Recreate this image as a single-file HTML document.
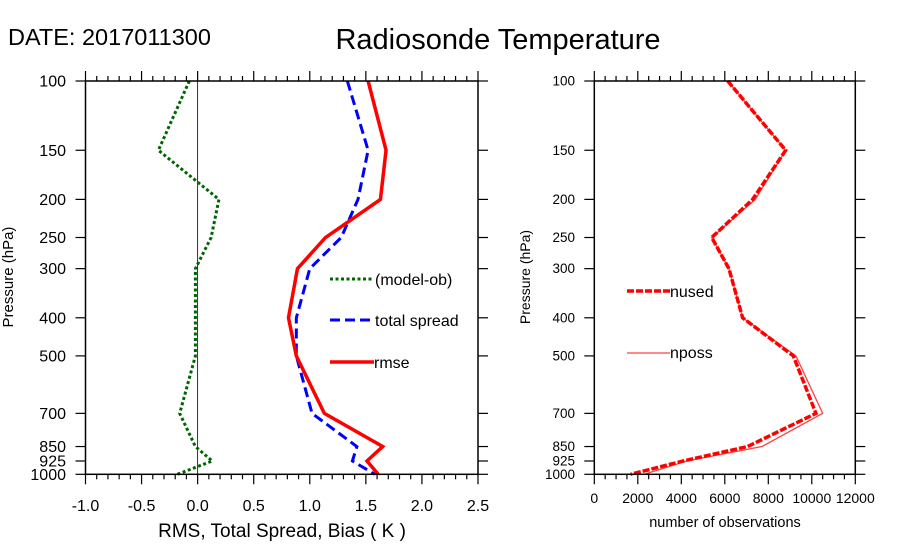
<!DOCTYPE html>
<html><head><meta charset="utf-8"><style>
html,body{margin:0;padding:0;background:#fff;}
svg{display:block;font-family:"Liberation Sans",sans-serif;}
</style></head><body>
<svg id="s" width="900" height="560" viewBox="0 0 900 560" xmlns="http://www.w3.org/2000/svg">
<text x="8" y="45" font-size="23.5">DATE: 2017011300</text>
<text x="498" y="49" font-size="29" text-anchor="middle">Radiosonde Temperature</text>
</svg>
<script>
const s=document.getElementById('s');const NS='http://www.w3.org/2000/svg';
function el(t,a,txt){const e=document.createElementNS(NS,t);for(const k in a)e.setAttribute(k,a[k]);if(txt!==undefined)e.textContent=txt;s.appendChild(e);return e;}
const T=81,B=474.3;
const yp=p=>T+(Math.log10(p)-2)*(B-T);
const P=[100,150,200,250,300,400,500,700,850,925,1000];
const L0=85.5,L1=478;const xl=v=>L0+(v+1)*(L1-L0)/3.5;
el('line',{x1:xl(0),y1:T,x2:xl(0),y2:B,stroke:'#000','stroke-width':0.8});
function poly(pts,attrs){el('polyline',Object.assign({points:pts.map(p=>p.join(',')).join(' '),fill:'none','stroke-linejoin':'miter'},attrs));}
const g=[-0.074,-0.35,0.19,0.12,-0.02,-0.02,-0.02,-0.16,-0.02,0.13,-0.18];
poly(P.map((p,i)=>[xl(g[i]),yp(p)]),{stroke:'#006400','stroke-width':3,'stroke-dasharray':'3,2.5'});
const b=[1.335,1.52,1.43,1.28,1.0,0.88,0.88,1.02,1.42,1.38,1.58];
poly(P.map((p,i)=>[xl(b[i]),yp(p)]),{stroke:'#0000ff','stroke-width':3,'stroke-dasharray':'10,5'});
const r=[1.52,1.68,1.63,1.14,0.89,0.81,0.88,1.13,1.65,1.51,1.61];
poly(P.map((p,i)=>[xl(r[i]),yp(p)]),{stroke:'#ff0000','stroke-width':3.5});
el('rect',{x:L0,y:T,width:L1-L0,height:B-T,fill:'none',stroke:'#000','stroke-width':1.5});
for(let i=0;i<=35;i++){const v=-1+i*0.1;const x=xl(v);const maj=i%5==0;const l=maj?10:5;
 el('line',{x1:x,y1:T,x2:x,y2:T-l,stroke:'#000','stroke-width':1.2});
 el('line',{x1:x,y1:B,x2:x,y2:B+l,stroke:'#000','stroke-width':1.2});
 if(maj)el('text',{x:x,y:511,'font-size':16,'text-anchor':'middle'},v.toFixed(1));}
P.forEach(p=>{const y=yp(p);el('line',{x1:L0-10,y1:y,x2:L0,y2:y,stroke:'#000','stroke-width':1.2});
 el('line',{x1:L1,y1:y,x2:L1+10,y2:y,stroke:'#000','stroke-width':1.2});
 el('text',{x:66,y:y+5.5,'font-size':16,'text-anchor':'end'},String(p));});
el('text',{x:282,y:537,'font-size':19,'text-anchor':'middle'},'RMS, Total Spread, Bias ( K )');
el('text',{x:0,y:0,'font-size':15,'text-anchor':'middle',transform:'translate(13,277) rotate(-90)'},'Pressure (hPa)');
el('line',{x1:330,y1:279,x2:372,y2:279,stroke:'#006400','stroke-width':3,'stroke-dasharray':'3,2.5'});
el('text',{x:375,y:285,'font-size':16},'(model-ob)');
el('line',{x1:330,y1:320,x2:375,y2:320,stroke:'#0000ff','stroke-width':3,'stroke-dasharray':'10,5'});
el('text',{x:375,y:326,'font-size':16},'total spread');
el('line',{x1:330,y1:362,x2:374,y2:362,stroke:'#ff0000','stroke-width':3.5});
el('text',{x:374,y:368,'font-size':16},'rmse');
const R0=594.3,R1=855.3;const xr=v=>R0+v*(R1-R0)/12000;
const np=[6133,8800,7400,5400,6190,6820,9270,10500,7710,4250,2300];
poly(P.map((p,i)=>[xr(np[i]),yp(p)]),{stroke:'#ff4040','stroke-width':1.3});
const nu=[6133,8800,7280,5400,6190,6820,9150,10190,7050,4090,1670];
poly(P.map((p,i)=>[xr(nu[i]),yp(p)]),{stroke:'#ff0000','stroke-width':3.5,'stroke-dasharray':'7,2'});
el('rect',{x:R0,y:T,width:R1-R0,height:B-T,fill:'none',stroke:'#000','stroke-width':1.5});
for(let i=0;i<=24;i++){const v=i*500;const x=xr(v);const maj=i%4==0;const l=maj?10:5;
 el('line',{x1:x,y1:T,x2:x,y2:T-l,stroke:'#000','stroke-width':1.2});
 el('line',{x1:x,y1:B,x2:x,y2:B+l,stroke:'#000','stroke-width':1.2});
 if(maj)el('text',{x:x,y:503,'font-size':14,'text-anchor':'middle'},String(v));}
P.forEach(p=>{const y=yp(p);el('line',{x1:R0-10,y1:y,x2:R0,y2:y,stroke:'#000','stroke-width':1.2});
 el('line',{x1:R1,y1:y,x2:R1+10,y2:y,stroke:'#000','stroke-width':1.2});
 el('text',{x:575,y:y+4.5,'font-size':13.5,'text-anchor':'end'},String(p));});
el('text',{x:725,y:527,'font-size':14.5,'text-anchor':'middle'},'number of observations');
el('text',{x:0,y:0,'font-size':14,'text-anchor':'middle',transform:'translate(530,277) rotate(-90)'},'Pressure (hPa)');
el('line',{x1:627,y1:291,x2:670,y2:291,stroke:'#ff0000','stroke-width':3.5,'stroke-dasharray':'7,2'});
el('text',{x:670,y:297,'font-size':16},'nused');
el('line',{x1:627,y1:353,x2:670,y2:353,stroke:'#ff4040','stroke-width':1.3});
el('text',{x:670,y:358,'font-size':16},'nposs');
</script>
</body></html>
